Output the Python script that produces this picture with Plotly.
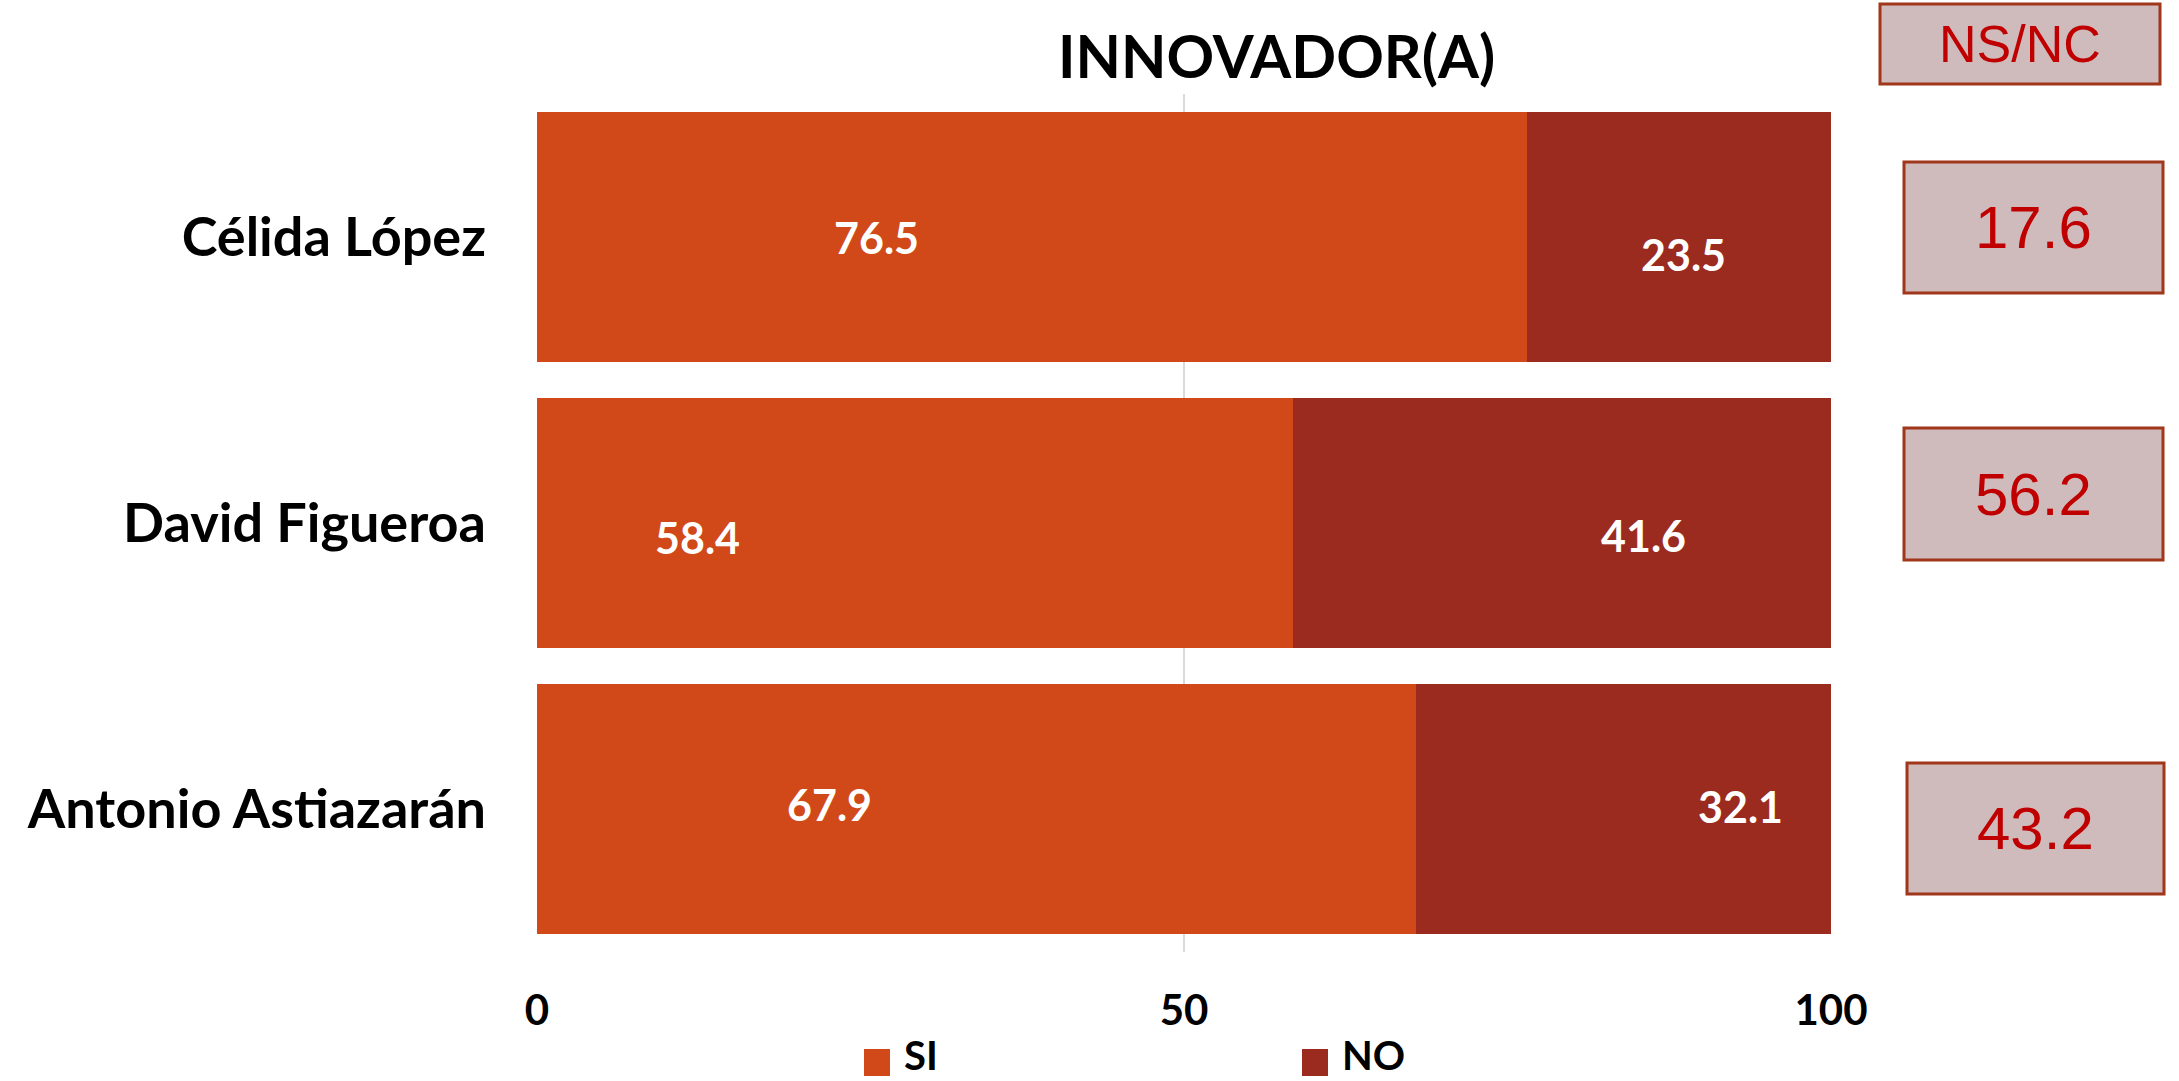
import plotly.graph_objects as go

# ---------------- data ----------------
candidates = ["Célida López", "David Figueroa", "Antonio Astiazarán"]
si_values = [76.5, 58.4, 67.9]
no_values = [23.5, 41.6, 32.1]
nsnc_values = [17.6, 56.2, 43.2]
x_ticks = [0, 50, 100]
title_text = "INNOVADOR(A)"
nsnc_header = "NS/NC"
series_names = ["SI", "NO"]

# ---------------- style / layout constants ----------------
FIG_W, FIG_H = 2179, 1081
L, R, T, B = 537, 1831, 94, 952   # plot area in pixels
PW, PH = R - L, B - T

COL_SI = "#D14918"
COL_NO = "#9B2B1F"
BOX_FILL = "#CFBBBC"
BOX_LINE = "#A0361A"
BOX_TEXT = "#C00000"
BOLD_FONT = "Lato"
BOX_FONT = "Liberation Sans, Arial"


def px(x):
    return (x - L) / PW


def py(y):
    return (B - y) / PH


fig = go.Figure()
fig.add_trace(go.Bar(
    y=candidates, x=si_values, name=series_names[0], orientation="h",
    marker=dict(color=COL_SI, line=dict(width=0)), hoverinfo="x+y",
))
fig.add_trace(go.Bar(
    y=candidates, x=no_values, name=series_names[1], orientation="h",
    marker=dict(color=COL_NO, line=dict(width=0)), hoverinfo="x+y",
))

annotations = []
shapes = []

# data labels (positions in data units, as placed in the original)
si_label_x = [26.2, 12.4, 22.6]
no_label_x = [88.6, 85.5, 93.0]
si_label_shift = [0, -14, 5]
no_label_shift = [-17, -12, 3]
for i, c in enumerate(candidates):
    annotations.append(dict(
        x=si_label_x[i], y=c, xref="x", yref="y", text=f"{si_values[i]:.1f}",
        showarrow=False, yshift=si_label_shift[i],
        font=dict(family=BOLD_FONT, size=43, color="white", weight="bold"),
    ))
    annotations.append(dict(
        x=no_label_x[i], y=c, xref="x", yref="y", text=f"{no_values[i]:.1f}",
        showarrow=False, yshift=no_label_shift[i],
        font=dict(family=BOLD_FONT, size=43, color="white", weight="bold"),
    ))

# title
annotations.append(dict(
    x=px(1276), y=py(55), xref="paper", yref="paper", text=f"<b>{title_text}</b>",
    showarrow=False, xanchor="center", yanchor="middle",
    font=dict(family=BOLD_FONT, size=59, color="black"),
))

# NS/NC header box
hdr = (1880, 4, 2160, 84)
shapes.append(dict(type="rect", xref="paper", yref="paper",
                   x0=px(hdr[0]), x1=px(hdr[2]), y0=py(hdr[3]), y1=py(hdr[1]),
                   fillcolor=BOX_FILL, line=dict(color=BOX_LINE, width=3)))
annotations.append(dict(
    x=px((hdr[0] + hdr[2]) / 2), y=py((hdr[1] + hdr[3]) / 2), xref="paper", yref="paper",
    text=nsnc_header, showarrow=False, xanchor="center", yanchor="middle",
    font=dict(family=BOX_FONT, size=52, color=BOX_TEXT),
))

# NS/NC value boxes
box_px = [(1904, 162, 2163, 293), (1904, 428, 2163, 560), (1907, 763, 2164, 894)]
for v, bx in zip(nsnc_values, box_px):
    shapes.append(dict(type="rect", xref="paper", yref="paper",
                       x0=px(bx[0]), x1=px(bx[2]), y0=py(bx[3]), y1=py(bx[1]),
                       fillcolor=BOX_FILL, line=dict(color=BOX_LINE, width=3)))
    annotations.append(dict(
        x=px((bx[0] + bx[2]) / 2), y=py((bx[1] + bx[3]) / 2), xref="paper", yref="paper",
        text=f"{v:.1f}", showarrow=False, xanchor="center", yanchor="middle",
        font=dict(family=BOX_FONT, size=60, color=BOX_TEXT),
    ))

# manual legend
legend_items = [(series_names[0], COL_SI, 864), (series_names[1], COL_NO, 1302)]
for name, col, x0 in legend_items:
    shapes.append(dict(type="rect", xref="paper", yref="paper",
                       x0=px(x0), x1=px(x0 + 26), y0=py(1076), y1=py(1049),
                       fillcolor=col, line=dict(width=0)))
    annotations.append(dict(
        x=px(x0 + 38), y=py(1055), xref="paper", yref="paper", text=f"<b>{name}</b>",
        showarrow=False, xanchor="left", yanchor="middle",
        font=dict(family=BOLD_FONT, size=40, color="black"),
    ))

fig.update_layout(
    width=FIG_W, height=FIG_H,
    margin=dict(l=L, r=FIG_W - R, t=T, b=FIG_H - B, pad=0),
    barmode="stack", bargap=0.126,
    plot_bgcolor="white", paper_bgcolor="white",
    showlegend=False,
    annotations=annotations, shapes=shapes,
    xaxis=dict(
        range=[0, 100], tickvals=x_ticks, ticktext=[str(t) for t in x_ticks],
        showgrid=True, gridcolor="#D9D9D9", gridwidth=2,
        zeroline=False, showline=False, ticks="",
        tickfont=dict(family=BOLD_FONT, size=42, color="black", weight="bold"),
        ticklabelstandoff=30, fixedrange=True,
    ),
    yaxis=dict(
        categoryorder="array", categoryarray=candidates, autorange="reversed",
        showgrid=False, zeroline=False, showline=False, ticks="",
        tickfont=dict(family=BOLD_FONT, size=54, color="black", weight="bold"),
        ticklabelstandoff=50, fixedrange=True,
    ),
)

fig.write_html(
    "out.html",
    config={"displayModeBar": False},
    post_script="document.body.style.margin='0';document.body.style.overflow='hidden';",
)
